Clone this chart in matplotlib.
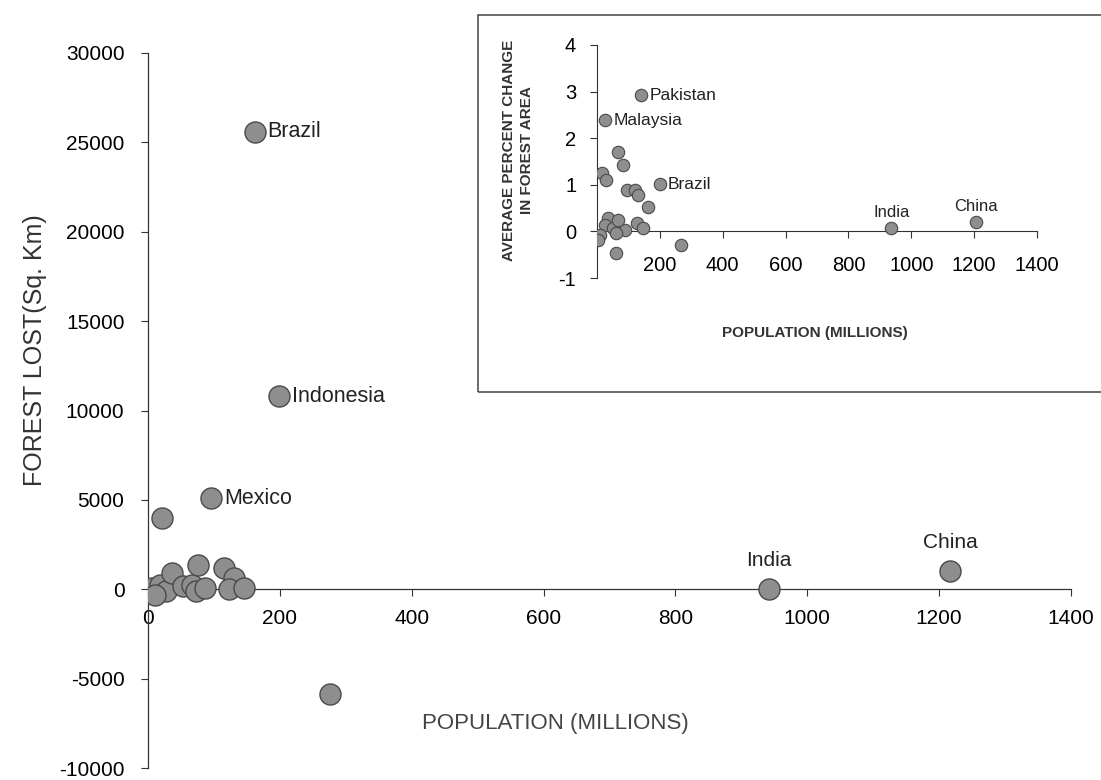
import matplotlib
matplotlib.use("Agg")
from matplotlib import pyplot as plt
from matplotlib.patches import Rectangle

plt.rcParams['font.family'] = ['Liberation Sans', 'DejaVu Sans']
plt.rcParams['axes.unicode_minus'] = False

# main chart: population (millions) vs forest lost (sq. km)
main_pop = [162, 199, 96, 21, 276, 942, 1217,
            2, 6, 18, 28, 36, 53, 66, 76, 73, 86, 116, 131, 123, 146, 10]
main_loss = [25600, 10800, 5100, 4000, -5850, 0, 1000,
             -100, 70, 250, -120, 900, 160, 250, 1370, -120, 70, 1190, 630, 0, 50, -300]
main_names = ["Brazil", "Indonesia", "Mexico", "India", "China"]
main_name_idx = [0, 1, 2, 5, 6]

# inset: population vs average percent change in forest area
inset_pop = [141, 25, 199, 937, 1206, 67, 83, 15, 28, 94, 120, 131, 162,
             36, 25, 52, 89, 126, 147, 9.5, 4, 62, 67, 62, 268]
inset_chg = [2.92, 2.39, 1.01, 0.07, 0.2, 1.71, 1.43, 1.25, 1.1, 0.89, 0.89, 0.78, 0.52,
             0.28, 0.14, 0.07, 0.03, 0.18, 0.07, -0.07, -0.18, -0.04, 0.25, -0.46, -0.29]
inset_names = ["Pakistan", "Malaysia", "Brazil", "India", "China"]
inset_name_idx = [0, 1, 2, 3, 4]

x_ticks = [0, 200, 400, 600, 800, 1000, 1200, 1400]
main_y_ticks = [-10000, -5000, 0, 5000, 10000, 15000, 20000, 25000, 30000]
inset_y_ticks = [-1, 0, 1, 2, 3, 4]

face = '#8e8e8e'
edge = '#4a4a4a'
line = '#333333'

fig = plt.figure(figsize=(11.01, 7.8), dpi=100)

#main axes
ax = fig.add_axes([148/1101, 1-768/780, (1071-148)/1101, (768-53)/780])
ax.scatter(main_pop, main_loss, s=230, c=face, edgecolors=edge, linewidths=1, zorder=3)
ax.set_xlim(0, 1400)
ax.set_ylim(-10000, 30000)
ax.set_xticks(x_ticks)
ax.set_yticks(main_y_ticks)
ax.spines['top'].set_visible(False)
ax.spines['right'].set_visible(False)
ax.spines['bottom'].set_position(('data', 0))
for s in ['left', 'bottom']:
    ax.spines[s].set_color(line)
    ax.spines[s].set_linewidth(0.9)
ax.tick_params(axis='x', direction='out', length=5, width=0.8, color=line, labelsize=15, pad=9)
ax.tick_params(axis='y', direction='out', length=5, width=0.8, color=line, labelsize=15, pad=12)

for name, i in zip(main_names, main_name_idx):
    if name in ("India", "China"):
        ax.annotate(name, (main_pop[i], main_loss[i]), xytext=(0, 14), textcoords='offset points',
                    ha='center', va='bottom', fontsize=15, color='#222222')
    else:
        ax.annotate(name, (main_pop[i], main_loss[i]), xytext=(9, 0), textcoords='offset points',
                    ha='left', va='center', fontsize=15.5, color='#222222')

fig.text(35/1101, 1-350/780, "FOREST LOST(Sq. Km)", rotation=90, ha='center', va='center',
         fontsize=18, color='#333333')
fig.text(555/1101, 1-723/780, "POPULATION (MILLIONS)", ha='center', va='center',
         fontsize=16, color='#444444')

#inset frame
fig.add_artist(Rectangle((478/1101, 1-392/780), 0.6, (392-15)/780, transform=fig.transFigure,
                         fill=False, edgecolor='#444444', linewidth=1.1))

#inset axes
ins = fig.add_axes([597/1101, 1-278/780, 440/1101, (278-45)/780])
ins.patch.set_alpha(0)
ins.scatter(inset_pop, inset_chg, s=80, c=face, edgecolors=edge, linewidths=0.8, zorder=3)
ins.set_xlim(0, 1400)
ins.set_ylim(-1, 4)
ins.set_xticks(x_ticks[1:])
ins.set_yticks(inset_y_ticks)
ins.spines['top'].set_visible(False)
ins.spines['right'].set_visible(False)
ins.spines['bottom'].set_position(('data', 0))
for s in ['left', 'bottom']:
    ins.spines[s].set_color(line)
    ins.spines[s].set_linewidth(0.8)
ins.tick_params(axis='x', direction='out', length=5, width=0.8, color=line, labelsize=14.5, pad=13)
ins.tick_params(axis='y', direction='out', length=5, width=0.8, color=line, labelsize=14.5, pad=10)

for name, i in zip(inset_names, inset_name_idx):
    if name in ("India", "China"):
        ins.annotate(name, (inset_pop[i], inset_chg[i]), xytext=(0, 6), textcoords='offset points',
                     ha='center', va='bottom', fontsize=12, color='#222222')
    else:
        ins.annotate(name, (inset_pop[i], inset_chg[i]), xytext=(6, 0), textcoords='offset points',
                     ha='left', va='center', fontsize=12.5, color='#222222')

fig.text(518/1101, 1-150/780, "AVERAGE PERCENT CHANGE\nIN FOREST AREA", rotation=90,
         ha='center', va='center', fontsize=11, fontweight='bold', color='#333333',
         multialignment='center', linespacing=1.3)
fig.text(815/1101, 1-333/780, "POPULATION (MILLIONS)", ha='center', va='center',
         fontsize=11, fontweight='bold', color='#333333')

plt.savefig("out.png", dpi=100)
